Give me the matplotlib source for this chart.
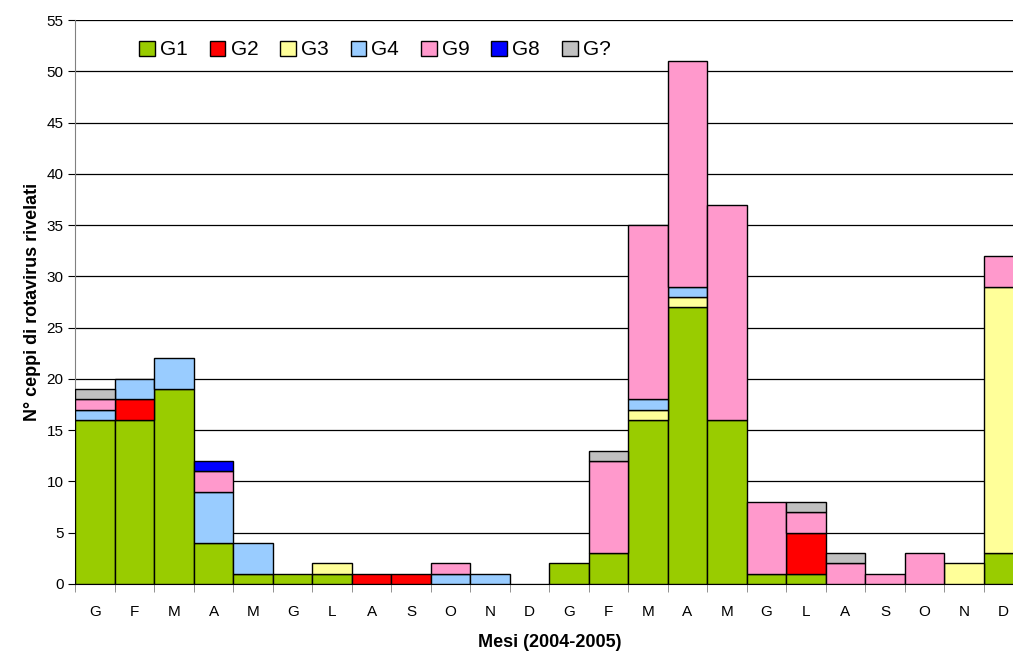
import numpy as np
import matplotlib
matplotlib.use("Agg")
import matplotlib.pyplot as plt

plt.rcParams['font.family'] = ['Liberation Sans', 'DejaVu Sans']

months = ["G", "F", "M", "A", "M", "G", "L", "A", "S", "O", "N", "D",
          "G", "F", "M", "A", "M", "G", "L", "A", "S", "O", "N", "D"]

# strain counts per month, Jan 2004 .. Dec 2005
g1 = [16, 16, 19, 4, 1, 1, 1, 0, 0, 0, 0, 0,
      2, 3, 16, 27, 16, 1, 1, 0, 0, 0, 0, 3]
g2 = [0, 2, 0, 0, 0, 0, 0, 1, 1, 0, 0, 0,
      0, 0, 0, 0, 0, 0, 4, 0, 0, 0, 0, 0]
g3 = [0, 0, 0, 0, 0, 0, 1, 0, 0, 0, 0, 0,
      0, 0, 1, 1, 0, 0, 0, 0, 0, 0, 2, 26]
g4 = [1, 2, 3, 5, 3, 0, 0, 0, 0, 1, 1, 0,
      0, 0, 1, 1, 0, 0, 0, 0, 0, 0, 0, 0]
g9 = [1, 0, 0, 2, 0, 0, 0, 0, 0, 1, 0, 0,
      0, 9, 17, 22, 21, 7, 2, 2, 1, 3, 0, 3]
g8 = [0, 0, 0, 1, 0, 0, 0, 0, 0, 0, 0, 0,
      0, 0, 0, 0, 0, 0, 0, 0, 0, 0, 0, 0]
gx = [1, 0, 0, 0, 0, 0, 0, 0, 0, 0, 0, 0,
      0, 1, 0, 0, 0, 0, 1, 1, 0, 0, 0, 0]

series = [("G1", g1, "#99CC00"), ("G2", g2, "#FF0000"), ("G3", g3, "#FFFF99"),
          ("G4", g4, "#99CCFF"), ("G9", g9, "#FF99CC"), ("G8", g8, "#0000FF"),
          ("G?", gx, "#C0C0C0")]

fig = plt.figure(figsize=(10.13, 6.53), dpi=100)
# right edge of the plot area runs slightly past the figure
ax = fig.add_axes([0.0745, 0.1057, 0.9355, 0.8633])

x = np.arange(len(months))
bottom = np.zeros(len(months))
for name, vals, col in series:
    vals = np.array(vals, dtype=float)
    nz = vals > 0
    # zero segments are skipped so they leave no outline behind
    ax.bar(x[nz], vals[nz], width=1.0, bottom=bottom[nz], color=col,
           edgecolor="black", linewidth=1.0, zorder=3)
    ax.bar([0], [0], color=col, edgecolor="black", linewidth=1.0, label=name)
    bottom += vals

ax.set_xlim(-0.5, len(months) - 0.5)
ax.set_ylim(0, 55)
ax.set_yticks(np.arange(0, 56, 5))
ax.yaxis.grid(True, color="black", linewidth=0.9, zorder=0)

ax.set_xticks(x)
ax.set_xticklabels(months, fontsize=11)
ax.tick_params(axis="x", length=0, pad=15)
ax.set_xticks(np.arange(-0.5, len(months), 1.0), minor=True)
ax.tick_params(axis="x", which="minor", length=6, color="gray")
ax.tick_params(axis="y", labelsize=11, length=5)

for s in ["top", "right"]:
    ax.spines[s].set_visible(False)
ax.spines["left"].set_color("gray")
ax.spines["bottom"].set_color("black")

ax.set_ylabel("N° ceppi di rotavirus rivelati", fontsize=13, fontweight="bold")
ax.set_xlabel("Mesi (2004-2005)", fontsize=13, fontweight="bold", labelpad=11)

ax.legend(loc="upper left", bbox_to_anchor=(0.052, 0.99), ncol=7, frameon=False,
          fontsize=15, handlelength=0.75, handleheight=0.75, handletextpad=0.25,
          columnspacing=1.05, borderaxespad=0.3)

fig.savefig("out.png", dpi=100)
